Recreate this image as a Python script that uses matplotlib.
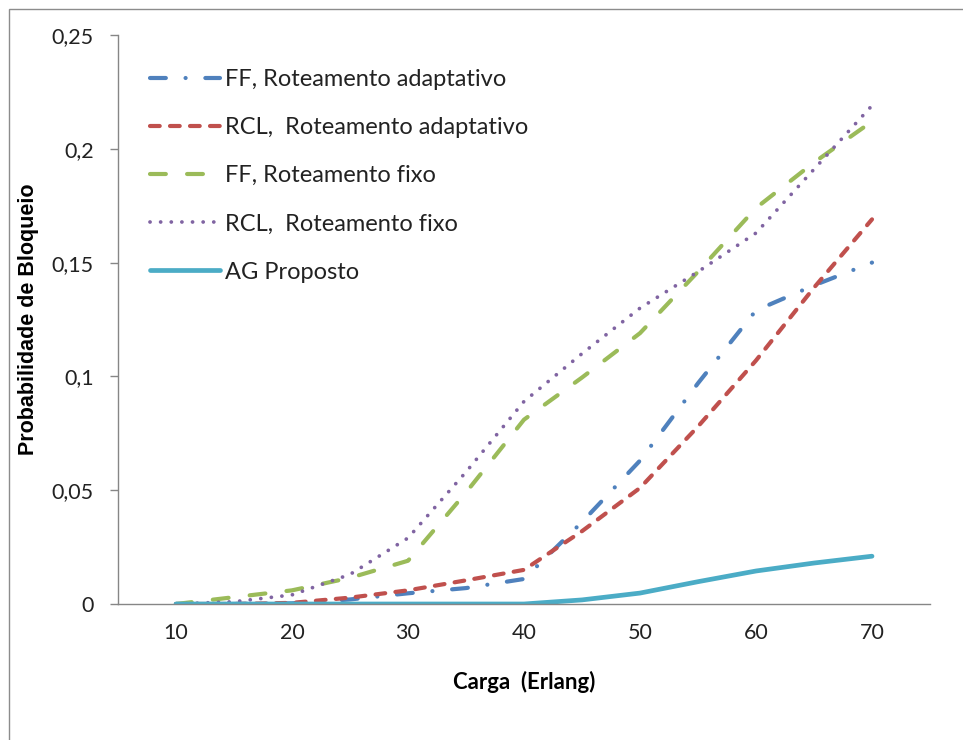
import matplotlib
matplotlib.use("Agg")
import matplotlib.pyplot as plt
from matplotlib.patches import Rectangle
from matplotlib.ticker import FixedLocator, FuncFormatter

plt.rcParams["lines.scale_dashes"] = False
plt.rcParams["font.family"] = ["Lato", "DejaVu Sans"]

# Offered load (Erlang)
carga = [10, 15, 20, 25, 30, 35, 40, 45, 50, 55, 60, 65, 70]

# Blocking probability per strategy
ff_adapt = [0.0, 0.0, 0.0003, 0.002, 0.0047, 0.007, 0.011, 0.036, 0.063, 0.097, 0.129, 0.140, 0.150]
rcl_adapt = [0.0, 0.0, 0.0005, 0.0028, 0.006, 0.0104, 0.015, 0.032, 0.051, 0.078, 0.107, 0.139, 0.169]
ff_fixo = [0.0, 0.003, 0.006, 0.0115, 0.019, 0.049, 0.081, 0.0995, 0.119, 0.146, 0.174, 0.194, 0.212]
rcl_fixo = [0.0, 0.001, 0.004, 0.013, 0.029, 0.058, 0.089, 0.110, 0.130, 0.146, 0.163, 0.191, 0.219]
ag_proposto = [0.0, 0.0, 0.0, 0.0, 0.0, 0.0, 0.0, 0.0018, 0.0048, 0.0098, 0.0145, 0.018, 0.021]

labels = [
    "FF, Roteamento adaptativo",
    "RCL,  Roteamento adaptativo",
    "FF, Roteamento fixo",
    "RCL,  Roteamento fixo",
    "AG Proposto",
]
y_ticks = [0, 0.05, 0.1, 0.15, 0.2, 0.25]
x_ticks = [10, 20, 30, 40, 50, 60, 70]

W, H = 963, 740
fig = plt.figure(figsize=(W / 100, H / 100), dpi=100)
fig.patch.set_facecolor("white")

# outer chart frame (left and top edges visible)
fig.patches.append(Rectangle((9 / W, -0.1), 1.2, 1 - 9 / H + 0.1, transform=fig.transFigure,
                             fill=False, edgecolor="#8c8c8c", linewidth=1.0))

ax = fig.add_axes([118 / W, 1 - 604 / H, (930 - 118) / W, (604 - 35) / H])

lw = 3.0
ax.plot(carga, ff_adapt, color="#4F81BD", lw=lw, dash_capstyle="round",
        linestyle=(0, (11.4, 14.2, 0.05, 14.2)), label=labels[0])
ax.plot(carga, rcl_adapt, color="#C0504D", lw=lw, dash_capstyle="round",
        linestyle=(0, (7.0, 7.4)), label=labels[1])
ax.plot(carga, ff_fixo, color="#9BBB59", lw=lw, dash_capstyle="round",
        linestyle=(0, (11.4, 15.3)), label=labels[2])
ax.plot(carga, rcl_fixo, color="#8064A2", lw=2.7, dash_capstyle="round",
        linestyle=(0, (0.05, 7.6)), label=labels[3])
ax.plot(carga, ag_proposto, color="#4BACC6", lw=3.4, solid_capstyle="round",
        label=labels[4])

ax.set_xlim(5, 75)
ax.set_ylim(0, 0.25)
ax.xaxis.set_major_locator(FixedLocator(x_ticks))
ax.yaxis.set_major_locator(FixedLocator(y_ticks))
ax.yaxis.set_major_formatter(FuncFormatter(lambda v, p: f"{v:g}".replace(".", ",")))

for side in ("top", "right"):
    ax.spines[side].set_visible(False)
for side in ("left", "bottom"):
    ax.spines[side].set_color("#868686")
    ax.spines[side].set_linewidth(1.0)

ax.tick_params(axis="y", length=6, width=1.0, color="#868686", pad=11.5,
               labelsize=15.5, labelcolor="#222222")
ax.tick_params(axis="x", length=0, pad=14, labelsize=15.5, labelcolor="#222222")

ax.set_xlabel("Carga  (Erlang)", fontsize=16, fontweight="bold", labelpad=20)
ax.set_ylabel("Probabilidade de Bloqueio", fontsize=15.5, fontweight="bold",
              family=["Liberation Sans", "DejaVu Sans"], labelpad=9)

leg = ax.legend(loc="upper left", bbox_to_anchor=(150 / W, 1 - 69 / H),
                bbox_transform=fig.transFigure, frameon=False, fontsize=17,
                handlelength=2.96, handletextpad=0.21, labelspacing=1.15,
                borderpad=0, borderaxespad=0)
for t in leg.get_texts():
    t.set_color("#222222")

fig.savefig("out.png", dpi=100, facecolor="white")
